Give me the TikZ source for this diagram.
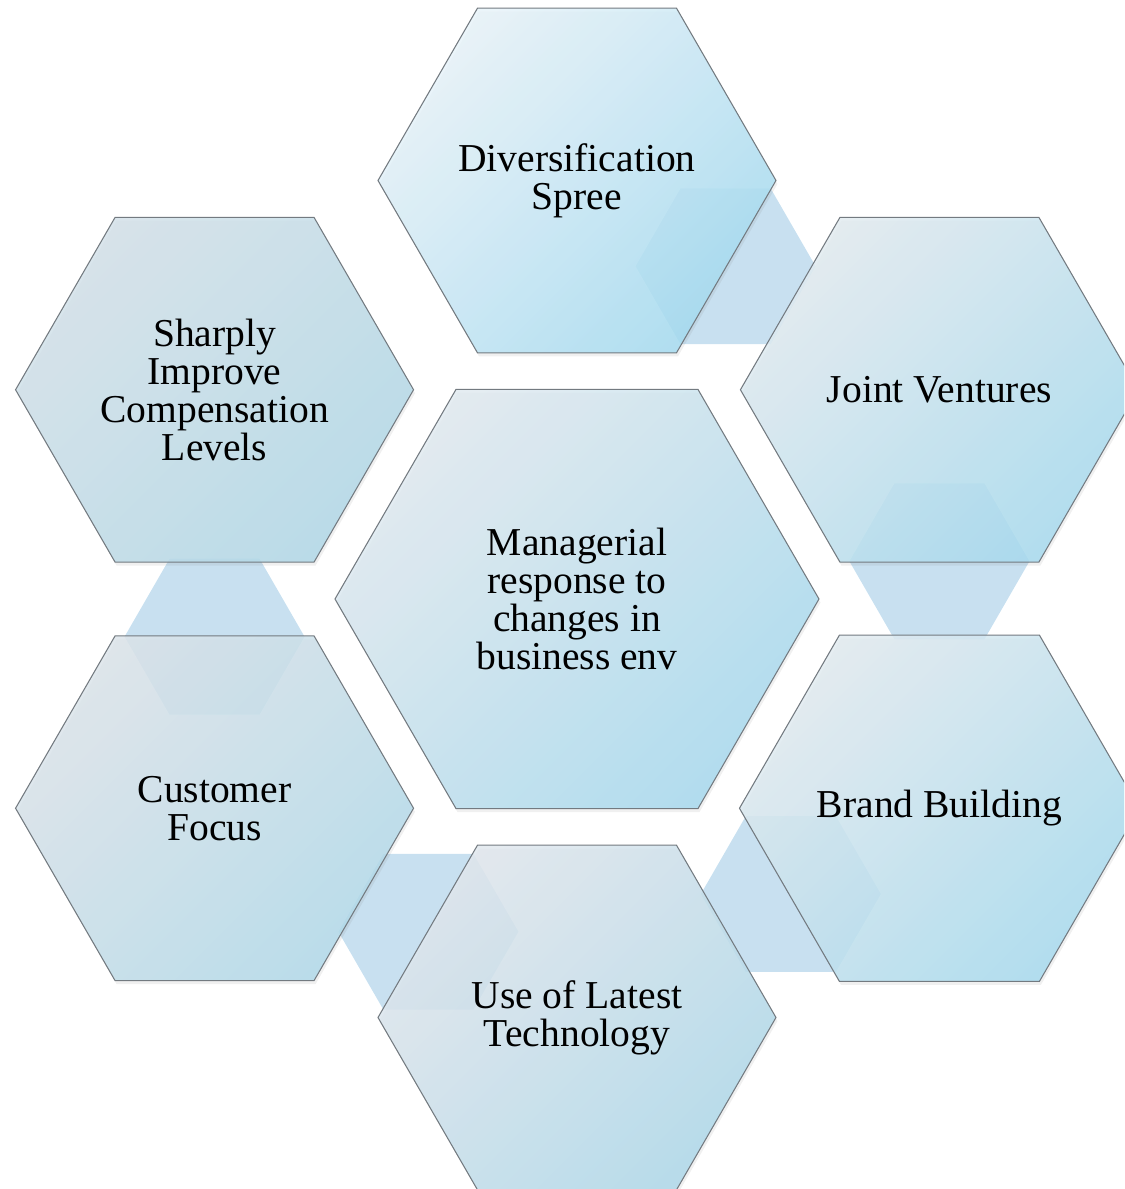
\documentclass[tikz,border=0pt]{standalone}
\usepackage{fontspec}
\setmainfont{Liberation Serif}
\usetikzlibrary{shapes.geometric,shadows,calc}

\definecolor{hexline}{HTML}{737A80}
\definecolor{linkblue}{HTML}{C8E0F0}
\definecolor{divlight}{HTML}{E8F3F9}
\definecolor{divdark}{HTML}{A6DCF1}
\definecolor{corelight}{HTML}{E1EAF0}
\definecolor{coredark}{HTML}{A8DAEE}
\definecolor{sidelight}{HTML}{E2EBF0}
\definecolor{sidedark}{HTML}{A8DBEF}
\definecolor{techlight}{HTML}{E1E7ED}
\definecolor{techdark}{HTML}{AFD9EA}
\definecolor{paylight}{HTML}{D3E1E9}
\definecolor{paydark}{HTML}{B2D9E8}
\definecolor{custlight}{HTML}{DCE4EA}
\definecolor{custdark}{HTML}{B2DAEA}

\begin{document}
\begin{tikzpicture}[
    tint/.style 2 args={top color=#1, bottom color=#2, shading angle=45},
    hexbox/.style={regular polygon, regular polygon sides=6, minimum size=7.96cm,
      inner sep=0pt, draw=hexline, line width=0.6pt, tint={sidelight}{sidedark},
      fill opacity=0.85, text opacity=1, align=center,
      drop shadow={opacity=0.12, shadow xshift=0.3mm, shadow yshift=-0.7mm},
      font=\fontsize{22.5}{21.6}\selectfont},
    linkhex/.style={regular polygon, regular polygon sides=6, minimum size=3.6cm,
      inner sep=0pt, fill=linkblue}
  ]
  \clip (-11.54,-11.80) rectangle (10.94,11.98);

  % ring positions
  \coordinate (c-div) at (90:8.37);
  \coordinate (c-jv) at (30:8.37);
  \coordinate (c-bb) at (-30:8.37);
  \coordinate (c-tech) at (-90:8.37);
  \coordinate (c-cust) at (210:8.37);
  \coordinate (c-pay) at (150:8.37);

  % small links behind the ring
  \foreach \a/\b in {div/jv, jv/bb, bb/tech, tech/cust, cust/pay} {
    \node[linkhex] (link-\a) at ($(c-\a)!0.41!(c-\b)$) {};
  }

  \node[hexbox, minimum size=9.68cm, tint={corelight}{coredark}] (core) at (0,0)
    {Managerial\\response to\\changes in\\business env};
  \node[hexbox, tint={divlight}{divdark}] (div) at (c-div) {Diversification\\Spree};
  \node[hexbox] (jv) at (c-jv) {Joint Ventures};
  \node[hexbox] (bb) at (c-bb) {Brand Building};
  \node[hexbox, tint={techlight}{techdark}] (tech) at (c-tech) {Use of Latest\\Technology};
  \node[hexbox, tint={custlight}{custdark}] (cust) at (c-cust) {Customer\\Focus};
  \node[hexbox, tint={paylight}{paydark}] (pay) at (c-pay)
    {Sharply\\Improve\\Compensation\\Levels};
\end{tikzpicture}
\end{document}
